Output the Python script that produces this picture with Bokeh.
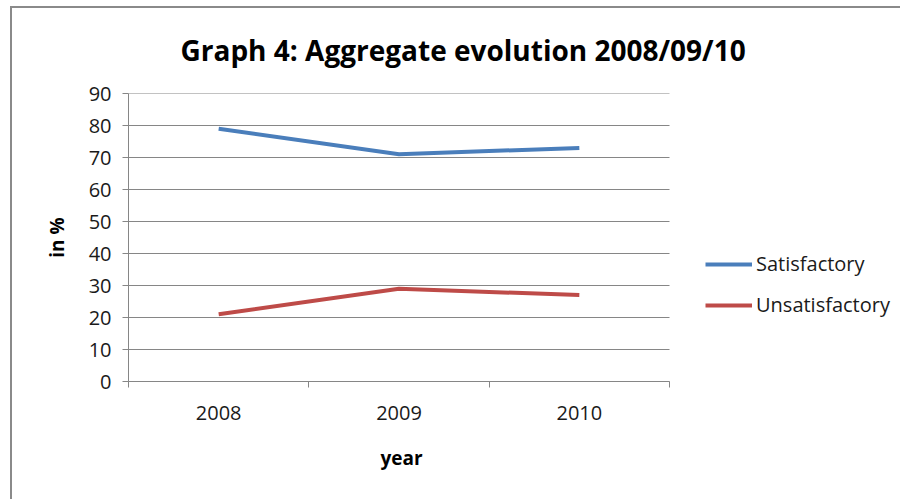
from bokeh.plotting import figure
from bokeh.models import FixedTicker, Legend, LegendItem, Range1d, Title
from bokeh.embed import file_html
from bokeh.resources import INLINE

# ---- data ----
years = ["2008", "2009", "2010"]
satisfactory = [79, 71, 73]
unsatisfactory = [21, 29, 27]
y_ticks = [0, 10, 20, 30, 40, 50, 60, 70, 80, 90]
title_text = "Graph 4: Aggregate evolution 2008/09/10"
x_title = "year"
y_title = "in %"
series_names = ["Satisfactory", "Unsatisfactory"]

FONT = "Open Sans"
GRID = "#868686"
TXT = "#1a1a1a"

# layout: canvas 890 wide, plot area 541 px wide starting 116 px from the left;
# the frame runs to the canvas edge so that the legend can sit inside it.
W, H = 890, 493
LEFT = 116
AREA_W = 541
n = len(years)
x_end = n * (W - LEFT) / AREA_W

x_pos = [i + 0.5 for i in range(n)]

p = figure(width=W, height=H,
           x_range=Range1d(0, x_end), y_range=Range1d(y_ticks[0], y_ticks[-1]),
           output_backend="svg", toolbar_location=None,
           min_border_left=LEFT, min_border_right=0,
           min_border_top=85, min_border_bottom=120)
p.styles = {"margin-left": "12px", "margin-top": "8px",
            "box-shadow": "-2px -2px 0 0 #8a8a8a"}
p.outline_line_color = None
p.background_fill_color = "white"
p.border_fill_color = "white"

p.title = Title(text=title_text, align="left", offset=52, standoff=45,
                vertical_align="top",
                text_font=FONT, text_font_size="28px", text_font_style="bold",
                text_color="#000000")

# horizontal gridlines over the category area only
p.segment(x0=[0] * len(y_ticks), x1=[n] * len(y_ticks), y0=y_ticks, y1=y_ticks,
          line_color=GRID, line_width=1)

r1 = p.line(x_pos, satisfactory, line_color="#4a7ebb", line_width=4)
r2 = p.line(x_pos, unsatisfactory, line_color="#be4b48", line_width=4)

# x axis
p.xaxis.bounds = (0, n)
p.xaxis.ticker = FixedTicker(ticks=x_pos, minor_ticks=list(range(n + 1)))
p.xaxis.major_label_overrides = {x: y for x, y in zip(x_pos, years)}
p.xaxis.major_tick_out = 0
p.xaxis.major_tick_in = 0
p.xaxis.minor_tick_out = 6
p.xaxis.minor_tick_in = 0
p.xaxis.minor_tick_line_color = GRID
p.xaxis.major_label_standoff = 18

# x-axis title centred under the category area
p.add_layout(Title(text=x_title, align="left", offset=252, standoff=40,
                   text_font=FONT, text_font_size="19px", text_font_style="bold",
                   text_color="#000000"), "below")

# y axis
p.yaxis.ticker = FixedTicker(ticks=y_ticks)
p.yaxis.major_tick_out = 6
p.yaxis.major_tick_in = 0
p.yaxis.minor_tick_line_color = None
p.yaxis.major_label_standoff = 11
p.yaxis.axis_label = y_title
p.yaxis.axis_label_standoff = 16

for ax in (p.xaxis, p.yaxis):
    ax.axis_line_color = GRID
    ax.major_tick_line_color = GRID
    ax.major_label_text_font = FONT
    ax.major_label_text_font_size = "20px"
    ax.major_label_text_color = TXT
    ax.axis_label_text_font = FONT
    ax.axis_label_text_font_size = "19px"
    ax.axis_label_text_font_style = "bold"
    ax.axis_label_text_color = "#000000"

p.xgrid.visible = False
p.ygrid.visible = False

legend = Legend(items=[LegendItem(label=series_names[0], renderers=[r1]),
                       LegendItem(label=series_names[1], renderers=[r2])],
                location=(577, 63), padding=0, margin=0, spacing=14,
                glyph_width=47, glyph_height=20, label_height=20,
                label_standoff=4, border_line_color=None,
                background_fill_alpha=0,
                label_text_font=FONT, label_text_font_size="20px",
                label_text_color=TXT)
p.add_layout(legend)

open("out.html", "w").write(file_html(p, INLINE))
